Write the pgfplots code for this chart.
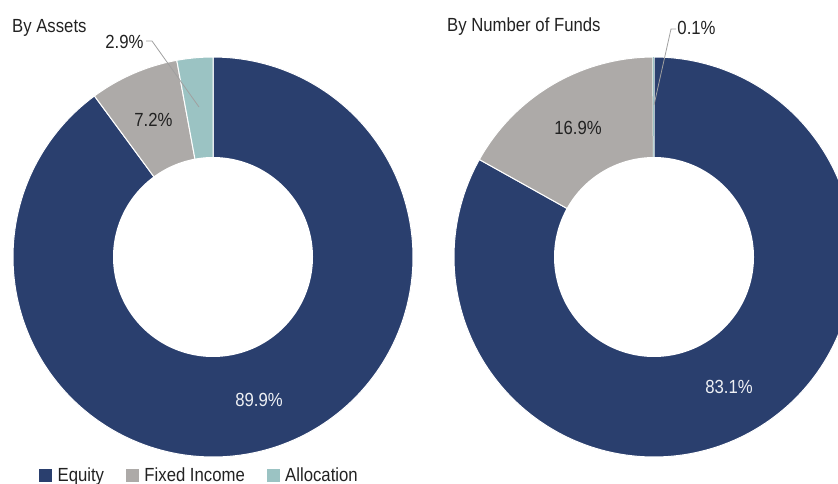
\documentclass[border=0pt]{standalone}
\usepackage{pgfplots}
\pgfplotsset{compat=1.18}
\usepackage{fontspec}
\setmainfont[FakeStretch=0.88]{Liberation Sans}
\definecolor{navy}{HTML}{2A3F6E}
\definecolor{fgray}{HTML}{ADAAA8}
\definecolor{tealc}{HTML}{9BC3C3}
\definecolor{txt}{HTML}{222222}
\definecolor{lead}{HTML}{A0A0A0}
\begin{document}
\begin{tikzpicture}[font=\fontsize{19}{22}\selectfont]
% data (percent)
\def\LE{89.9}\def\LF{7.2}\def\LA{2.9}
\def\RE{83.1}\def\RF{16.9}\def\RA{0.1}
\pgfmathsetmacro\La{90-3.6*\LE}
\pgfmathsetmacro\Lb{\La-3.6*\LF}
\pgfmathsetmacro\Lc{\Lb-3.6*\LA}
\pgfmathsetmacro\Ra{90-3.6*\RE}
\pgfmathsetmacro\Rb{\Ra-3.6*\RF+3.6*\RA}
\pgfmathsetmacro\Rc{-270}
\begin{axis}[name=ax, scale only axis, width=838pt, height=484pt,
  xmin=0, xmax=838, ymin=0, ymax=484, y dir=reverse,
  axis lines=none, xtick=\empty, ytick=\empty,
  legend style={at={(axis cs:39,475)}, anchor=west, draw=none, fill=none,
    font=\fontsize{19}{22}\selectfont, text=txt, legend columns=3, inner sep=0pt,
    nodes={inner sep=0pt},
    /tikz/every even column/.append style={column sep=22pt}},
  legend image code/.code={\fill[#1] (0pt,-6pt) rectangle (12pt,6pt); \path (18pt,0pt);}]
\addlegendimage{navy}\addlegendentry{Equity}
\addlegendimage{fgray}\addlegendentry{Fixed Income}
\addlegendimage{tealc}\addlegendentry{Allocation}
% left donut
\addplot[forget plot, fill=navy, draw=white, line width=1pt, domain=\La:90, samples=200]
  ({213+200*cos(x)},{257-200*sin(x)}) -- (axis cs:213,257) -- cycle;
\addplot[forget plot, fill=fgray, draw=white, line width=1pt, domain=\Lb:\La, samples=30]
  ({213+200*cos(x)},{257-200*sin(x)}) -- (axis cs:213,257) -- cycle;
\addplot[forget plot, fill=tealc, draw=white, line width=1pt, domain=\Lc:\Lb, samples=15]
  ({213+200*cos(x)},{257-200*sin(x)}) -- (axis cs:213,257) -- cycle;
\addplot[forget plot, fill=white, draw=none, domain=0:360, samples=200]
  ({213+100*cos(x)},{257-100*sin(x)}) -- cycle;
% right donut
\addplot[forget plot, fill=navy, draw=white, line width=1pt, domain=\Ra:90, samples=200]
  ({654+200*cos(x)},{257-200*sin(x)}) -- (axis cs:654,257) -- cycle;
\addplot[forget plot, fill=fgray, draw=white, line width=1pt, domain=\Rb:\Ra, samples=60]
  ({654+200*cos(x)},{257-200*sin(x)}) -- (axis cs:654,257) -- cycle;
\addplot[forget plot, fill=tealc, draw=none, domain=\Rc:\Rb, samples=3]
  ({654+200*cos(x)},{257-200*sin(x)}) -- (axis cs:654,257) -- cycle;
\addplot[forget plot, fill=white, draw=none, domain=0:360, samples=200]
  ({654+100*cos(x)},{257-100*sin(x)}) -- cycle;
% leader lines
\draw[lead, line width=0.8pt] (axis cs:146,41) -- (axis cs:152,41) -- (axis cs:199,107);
\draw[lead, line width=0.8pt] (axis cs:676,29) -- (axis cs:671,29) -- (axis cs:654,105);
% labels
\node[anchor=base, inner sep=0pt, text=txt] at (axis cs:124.5,49) {2.9\%};
\node[anchor=base, inner sep=0pt, text=txt] at (axis cs:153.5,127) {7.2\%};
\node[anchor=base, inner sep=0pt, text=white!92!navy] at (axis cs:259,406) {89.9\%};
\node[anchor=base, inner sep=0pt, text=txt] at (axis cs:578,135) {16.9\%};
\node[anchor=base, inner sep=0pt, text=txt] at (axis cs:696.5,35) {0.1\%};
\node[anchor=base, inner sep=0pt, text=white!92!navy] at (axis cs:729,393) {83.1\%};
% titles
\node[anchor=base west, inner sep=0pt, text=txt] at (axis cs:12,33) {By Assets};
\node[anchor=base west, inner sep=0pt, text=txt] at (axis cs:447,32) {By Number of Funds};
\end{axis}
\pgfresetboundingbox
\path[use as bounding box] (ax.south west) rectangle (ax.north east);
\end{tikzpicture}
\end{document}
